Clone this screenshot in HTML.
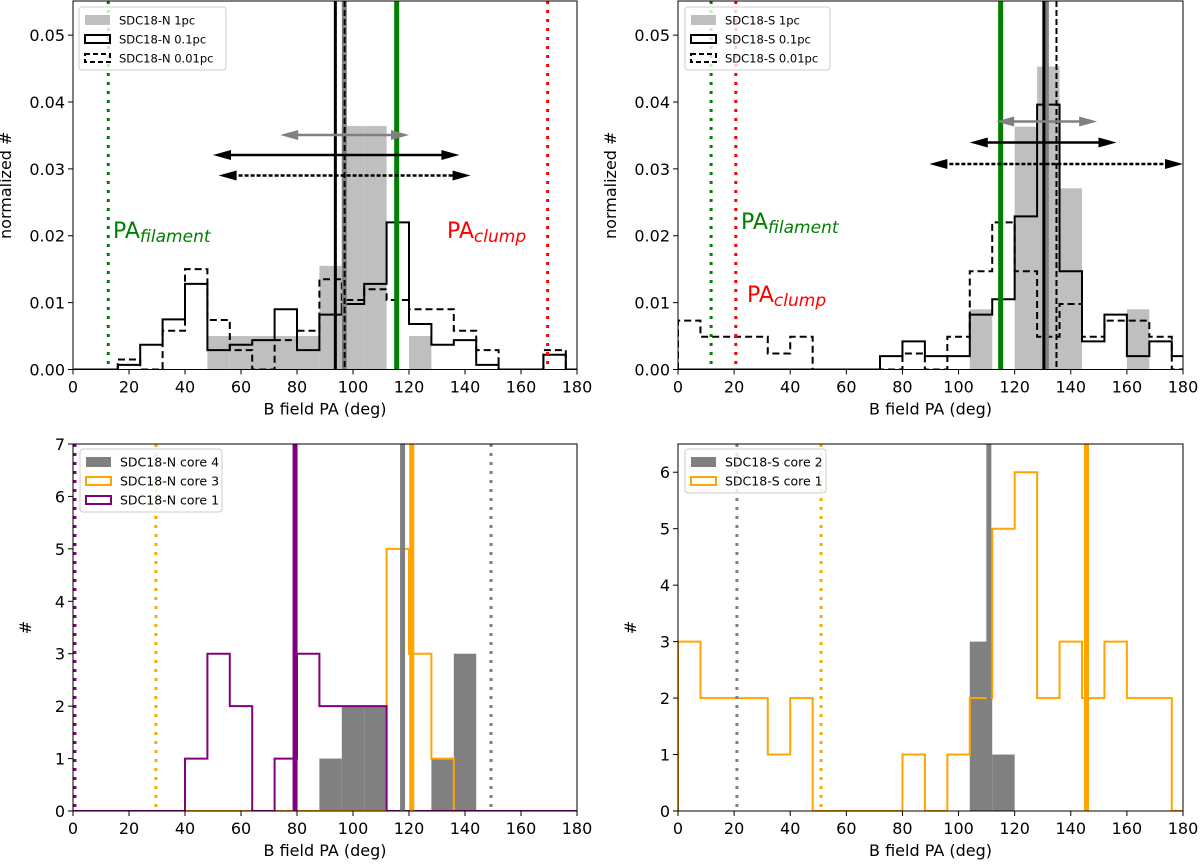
<!DOCTYPE html>
<html><head><meta charset="utf-8"><style>
body{margin:0;background:#fff;}
svg text{font-family:"DejaVu Sans","Liberation Sans",sans-serif;}
</style></head><body>
<svg id="fig" xmlns="http://www.w3.org/2000/svg" width="1200" height="862" viewBox="0 0 1200 862"></svg>
<script>
// ---------- data ----------
const binWidth = 8;
// Panel A: SDC18-N (normalized)
const nGray1pc = [0,0,0,0,0,0,0.005,0.005,0.005,0.005,0.005,0.0155,0.0364,0.0364,0,0.005,0,0,0,0,0,0,0];
const nSolid01 = [0,0,0.0007,0.0037,0.0075,0.0128,0.0029,0.0037,0.0044,0.009,0.0029,0.0082,0.0098,0.0128,0.022,0.0068,0.0037,0.0044,0.0007,0,0,0.0022,0];
const nDash001 = [0,0,0.0015,0,0.0058,0.015,0.0074,0.0029,0,0.0044,0.0058,0.0135,0.0104,0.012,0.0104,0.009,0.009,0.0058,0.0029,0,0,0.0029,0];
const nVLines = [93.7, 97, 96.9, 115.6, 12.6, 169.5];
const nArrowGray = [74, 120];
const nArrowSolid = [50, 138];
const nArrowDash = [52, 142];
// Panel B: SDC18-S (normalized)
const sGray1pc = [0,0,0,0,0,0,0,0,0,0,0,0,0,0.009,0,0.0363,0.0453,0.0271,0,0,0.009,0,0];
const sSolid01 = [0,0,0,0,0,0,0,0,0,0.002,0.0042,0.002,0.002,0.0082,0.0105,0.0229,0.0396,0.0147,0.0042,0.0082,0.002,0.0042,0.002];
const sDash001 = [0.0073,0.0049,0.0049,0.0049,0.0024,0.0049,0,0,0,0,0.0024,0,0.0049,0.0147,0.022,0.0147,0.0049,0.0098,0.0049,0.0073,0.0073,0.0049,0];
const sVLines = [130.4, 134.9, 131.3, 115, 11.8, 20.6];
const sArrowGray = [113.4, 149.4];
const sArrowSolid = [104, 156.3];
const sArrowDash = [89.6, 180];
// Panel C: SDC18-N cores (counts)
const nCore4 = [0,0,0,0,0,0,0,0,0,0,0,1,2,2,0,0,1,3,0,0,0,0,0];
const nCore3 = [0,0,0,0,0,0,0,0,0,0,0,0,0,0,5,3,1,0,0,0,0,0,0];
const nCore1 = [0,0,0,0,0,1,3,2,0,1,3,2,2,2,0,0,0,0,0,0,0,0,0];
const cLines = {core1:[79.3,0.7], core3:[121,29.6], core4:[117.7,149.3]};
// Panel D: SDC18-S cores (counts)
const sCore2 = [0,0,0,0,0,0,0,0,0,0,0,0,0,3,1,0,0,0,0,0,0,0,0];
const sCore1 = [3,2,2,2,1,2,0,0,0,0,1,0,1,2,5,6,2,3,2,3,2,2,0];
const dLines = {core1:[145.6,51], core2:[110.8,21]};
const xTicks = [0,20,40,60,80,100,120,140,160,180];

// ---------- helpers ----------
const NS = "http://www.w3.org/2000/svg";
const fig = document.getElementById('fig');
function el(tag, attrs, parent){
  const e = document.createElementNS(NS, tag);
  for (const k in attrs) e.setAttribute(k, attrs[k]);
  (parent||fig).appendChild(e);
  return e;
}
function makePanel(id, x0, x1, yT, yB, ymax){
  const g = el('g', {});
  
  
  const clipId = 'clip-' + id;
  const cp = el('clipPath', {id: clipId}, g);
  el('rect', {x:x0, y:yT, width:x1-x0, height:yB-yT}, cp);
  const plot = el('g', {'clip-path':'url(#'+clipId+')'}, g);
  return {g, plot, x0, x1, yT, yB, ymax,
    sx: v => x0 + (v/180)*(x1-x0),
    sy: v => yB - (v/ymax)*(yB-yT)};
}
function bars(P, vals, color, name){
  vals.forEach((v,i)=>{
    if (v<=0) return;
    const a = P.sx(i*binWidth), b = P.sx((i+1)*binWidth);
    const r = el('rect', {x:a, y:P.sy(v), width:b-a, height:P.yB-P.sy(v), fill:color}, P.plot);
    
    
  });
}
function step(P, vals, color, w, dash, name){
  let d = 'M' + P.sx(0) + ' ' + P.yB;
  vals.forEach((v,i)=>{
    d += ' L' + P.sx(i*binWidth) + ' ' + P.sy(v) + ' L' + P.sx((i+1)*binWidth) + ' ' + P.sy(v);
  });
  d += ' L' + P.sx(vals.length*binWidth) + ' ' + P.yB;
  const p = el('path', {d, fill:'none', stroke:color, 'stroke-width':w, 'stroke-dasharray':dash||'none', 'stroke-linejoin':'miter'}, P.plot);
  
  
}
function vline(P, x, color, w, dash, name){
  const l = el('line', {x1:P.sx(x), x2:P.sx(x), y1:P.yT, y2:P.yB, stroke:color, 'stroke-width':w, 'stroke-dasharray':dash||'none'}, P.plot);
  
  
}
function arrow(P, range, y, color, dash, name){
  const a = P.sx(range[0]), b = P.sx(range[1]);
  const g = el('g', {}, P.plot);
  
  
  el('line', {x1:a+8, x2:b-8, y1:y, y2:y, stroke:color, 'stroke-width':2.5, 'stroke-dasharray':dash||'none'}, g);
  el('polygon', {points:`${a},${y} ${a+18},${y-5} ${a+18},${y+5}`, fill:color}, g);
  el('polygon', {points:`${b},${y} ${b-18},${y-5} ${b-18},${y+5}`, fill:color}, g);
}
function axes(P, yticks, fmt, ylabel, ylabelX){
  const g = P.g;
  el('rect', {x:P.x0, y:P.yT, width:P.x1-P.x0, height:P.yB-P.yT, fill:'none', stroke:'#000', 'stroke-width':1}, g);
  xTicks.forEach(t=>{
    const x = P.sx(t);
    el('line', {x1:x, x2:x, y1:P.yB, y2:P.yB+5, stroke:'#000'}, g);
    const tx = el('text', {x:x, y:P.yB+23, 'font-size':16, 'text-anchor':'middle'}, g);
    tx.textContent = t;
    
    
  });
  yticks.forEach(t=>{
    const y = P.sy(t);
    el('line', {x1:P.x0-5, x2:P.x0, y1:y, y2:y, stroke:'#000'}, g);
    const tx = el('text', {x:P.x0-8, y:y+6, 'font-size':16, 'text-anchor':'end'}, g);
    tx.textContent = fmt(t);
    
    
  });
  const xl = el('text', {x:(P.x0+P.x1)/2, y:P.yB+45, 'font-size':16, 'text-anchor':'middle'}, g);
  xl.textContent = 'B field PA (deg)';
  
  
  const cy = (P.yT+P.yB)/2;
  const yl = el('text', {x:ylabelX, y:cy, 'font-size':16, 'text-anchor':'middle', transform:`rotate(-90 ${ylabelX} ${cy})`}, g);
  yl.textContent = ylabel;
  
  
}
function legend(P, x, y, w, entries){
  const g = el('g', {}, P.g);
  
  
  el('rect', {x, y, width:w, height:entries.length*19+6, rx:3, fill:'#fff', 'fill-opacity':0.8, stroke:'#ccc'}, g);
  entries.forEach((e,i)=>{
    const cy = y + 13 + i*19;
    const eg = el('g', {}, g);
    
    
    if (e.fill) el('rect', {x:x+6, y:cy-5, width:25, height:10, fill:e.fill}, eg);
    else el('rect', {x:x+6, y:cy-4, width:25, height:8, fill:'none', stroke:e.stroke, 'stroke-width':2, 'stroke-dasharray':e.dash||'none'}, eg);
    const t = el('text', {x:x+40, y:cy+4.5, 'font-size':e.fs||11.5}, eg);
    t.textContent = e.label;
  });
}
function paLabel(P, x, y, color, sub, name){
  const t = el('text', {x, y, fill:color, 'font-size':22}, P.g);
  
  
  const a = el('tspan', {}, t); a.textContent = 'PA';
  const b = el('tspan', {'font-style':'italic', 'font-size':17, dy:4}, t); b.textContent = sub;
}

// ---------- Panel A ----------
const A = makePanel('panel-sdc18-n', 73, 577, 1, 369.5, 0.0551);
bars(A, nGray1pc, '#bfbfbf', 'n-1pc');
step(A, nSolid01, '#000', 2, null, 'n-0.1pc-hist');
step(A, nDash001, '#000', 2, '7,4', 'n-0.01pc-hist');
vline(A, nVLines[0], '#000', 3, null, 'n-mean-0.1pc');
vline(A, nVLines[2], '#808080', 5, null, 'n-mean-1pc');
vline(A, nVLines[1], '#000', 2, '6,3', 'n-mean-0.01pc');
vline(A, nVLines[3], 'green', 5, null, 'n-mean-line-green');
vline(A, nVLines[4], 'green', 3, '3,6', 'n-pa-filament-line');
vline(A, nVLines[5], 'red', 3, '3,6', 'n-pa-clump-line');
arrow(A, nArrowGray, 135, '#808080', null, 'n-arrow-1pc');
arrow(A, nArrowSolid, 155, '#000', null, 'n-arrow-0.1pc');
arrow(A, nArrowDash, 175.5, '#000', '4,2', 'n-arrow-0.01pc');
axes(A, [0,0.01,0.02,0.03,0.04,0.05], t=>t.toFixed(2), 'normalized #', 11);
paLabel(A, 113, 238, 'green', 'filament', 'pa-filament-label');
paLabel(A, 447, 238, 'red', 'clump', 'pa-clump-label');
legend(A, 79, 7, 147, [{fill:'#bfbfbf',label:'SDC18-N 1pc'},{stroke:'#000',label:'SDC18-N 0.1pc'},{stroke:'#000',dash:'5,3',label:'SDC18-N 0.01pc'}]);

// ---------- Panel B ----------
const B = makePanel('panel-sdc18-s', 678, 1183, 1, 369.5, 0.0551);
bars(B, sGray1pc, '#bfbfbf', 's-1pc');
step(B, sSolid01, '#000', 2, null, 's-0.1pc-hist');
step(B, sDash001, '#000', 2, '7,4', 's-0.01pc-hist');
vline(B, sVLines[2], '#808080', 5, null, 's-mean-1pc');
vline(B, sVLines[0], '#000', 3, null, 's-mean-0.1pc');
vline(B, sVLines[1], '#000', 2, '6,3', 's-mean-0.01pc');
vline(B, sVLines[3], 'green', 5, null, 's-mean-line-green');
vline(B, sVLines[4], 'green', 3, '3,6', 's-pa-filament-line');
vline(B, sVLines[5], 'red', 3, '3,6', 's-pa-clump-line');
arrow(B, sArrowGray, 121.5, '#808080', null, 's-arrow-1pc');
arrow(B, sArrowSolid, 142.5, '#000', null, 's-arrow-0.1pc');
arrow(B, sArrowDash, 164, '#000', '4,2', 's-arrow-0.01pc');
axes(B, [0,0.01,0.02,0.03,0.04,0.05], t=>t.toFixed(2), 'normalized #', 616);
paLabel(B, 741, 229, 'green', 'filament', 'pa-filament-label');
paLabel(B, 747, 302, 'red', 'clump', 'pa-clump-label');
legend(B, 685, 7, 145, [{fill:'#bfbfbf',label:'SDC18-S 1pc'},{stroke:'#000',label:'SDC18-S 0.1pc'},{stroke:'#000',dash:'5,3',label:'SDC18-S 0.01pc'}]);

// ---------- Panel C ----------
const C = makePanel('panel-sdc18-n-cores', 73, 577, 444, 811, 7);
bars(C, nCore4, '#808080', 'n-core4');
step(C, nCore3, 'orange', 2, null, 'n-core3-hist');
step(C, nCore1, 'purple', 2, null, 'n-core1-hist');
vline(C, cLines.core1[0], 'purple', 5, null, 'n-core1-mean');
vline(C, cLines.core1[1], 'purple', 3, '3,6', 'n-core1-ref');
vline(C, cLines.core4[0], '#808080', 5, null, 'n-core4-mean');
vline(C, cLines.core3[0], 'orange', 5, null, 'n-core3-mean');
vline(C, cLines.core3[1], 'orange', 3, '3,6', 'n-core3-ref');
vline(C, cLines.core4[1], '#808080', 3, '3,6', 'n-core4-ref');
axes(C, [0,1,2,3,4,5,6,7], t=>String(t), '#', 31);
legend(C, 80, 449, 142, [{fill:'#808080',label:'SDC18-N core 4',fs:12.5},{stroke:'orange',label:'SDC18-N core 3',fs:12.5},{stroke:'purple',label:'SDC18-N core 1',fs:12.5}]);

// ---------- Panel D ----------
const D = makePanel('panel-sdc18-s-cores', 678, 1183, 444, 811, 6.5);
bars(D, sCore2, '#808080', 's-core2');
step(D, sCore1, 'orange', 2, null, 's-core1-hist');
vline(D, dLines.core2[0], '#808080', 5, null, 's-core2-mean');
vline(D, dLines.core1[0], 'orange', 5, null, 's-core1-mean');
vline(D, dLines.core2[1], '#808080', 3, '3,6', 's-core2-ref');
vline(D, dLines.core1[1], 'orange', 3, '3,6', 's-core1-ref');
axes(D, [0,1,2,3,4,5,6], t=>String(t), '#', 636);
legend(D, 685, 449, 141, [{fill:'#808080',label:'SDC18-S core 2',fs:12.5},{stroke:'orange',label:'SDC18-S core 1',fs:12.5}]);
</script>
</body></html>
